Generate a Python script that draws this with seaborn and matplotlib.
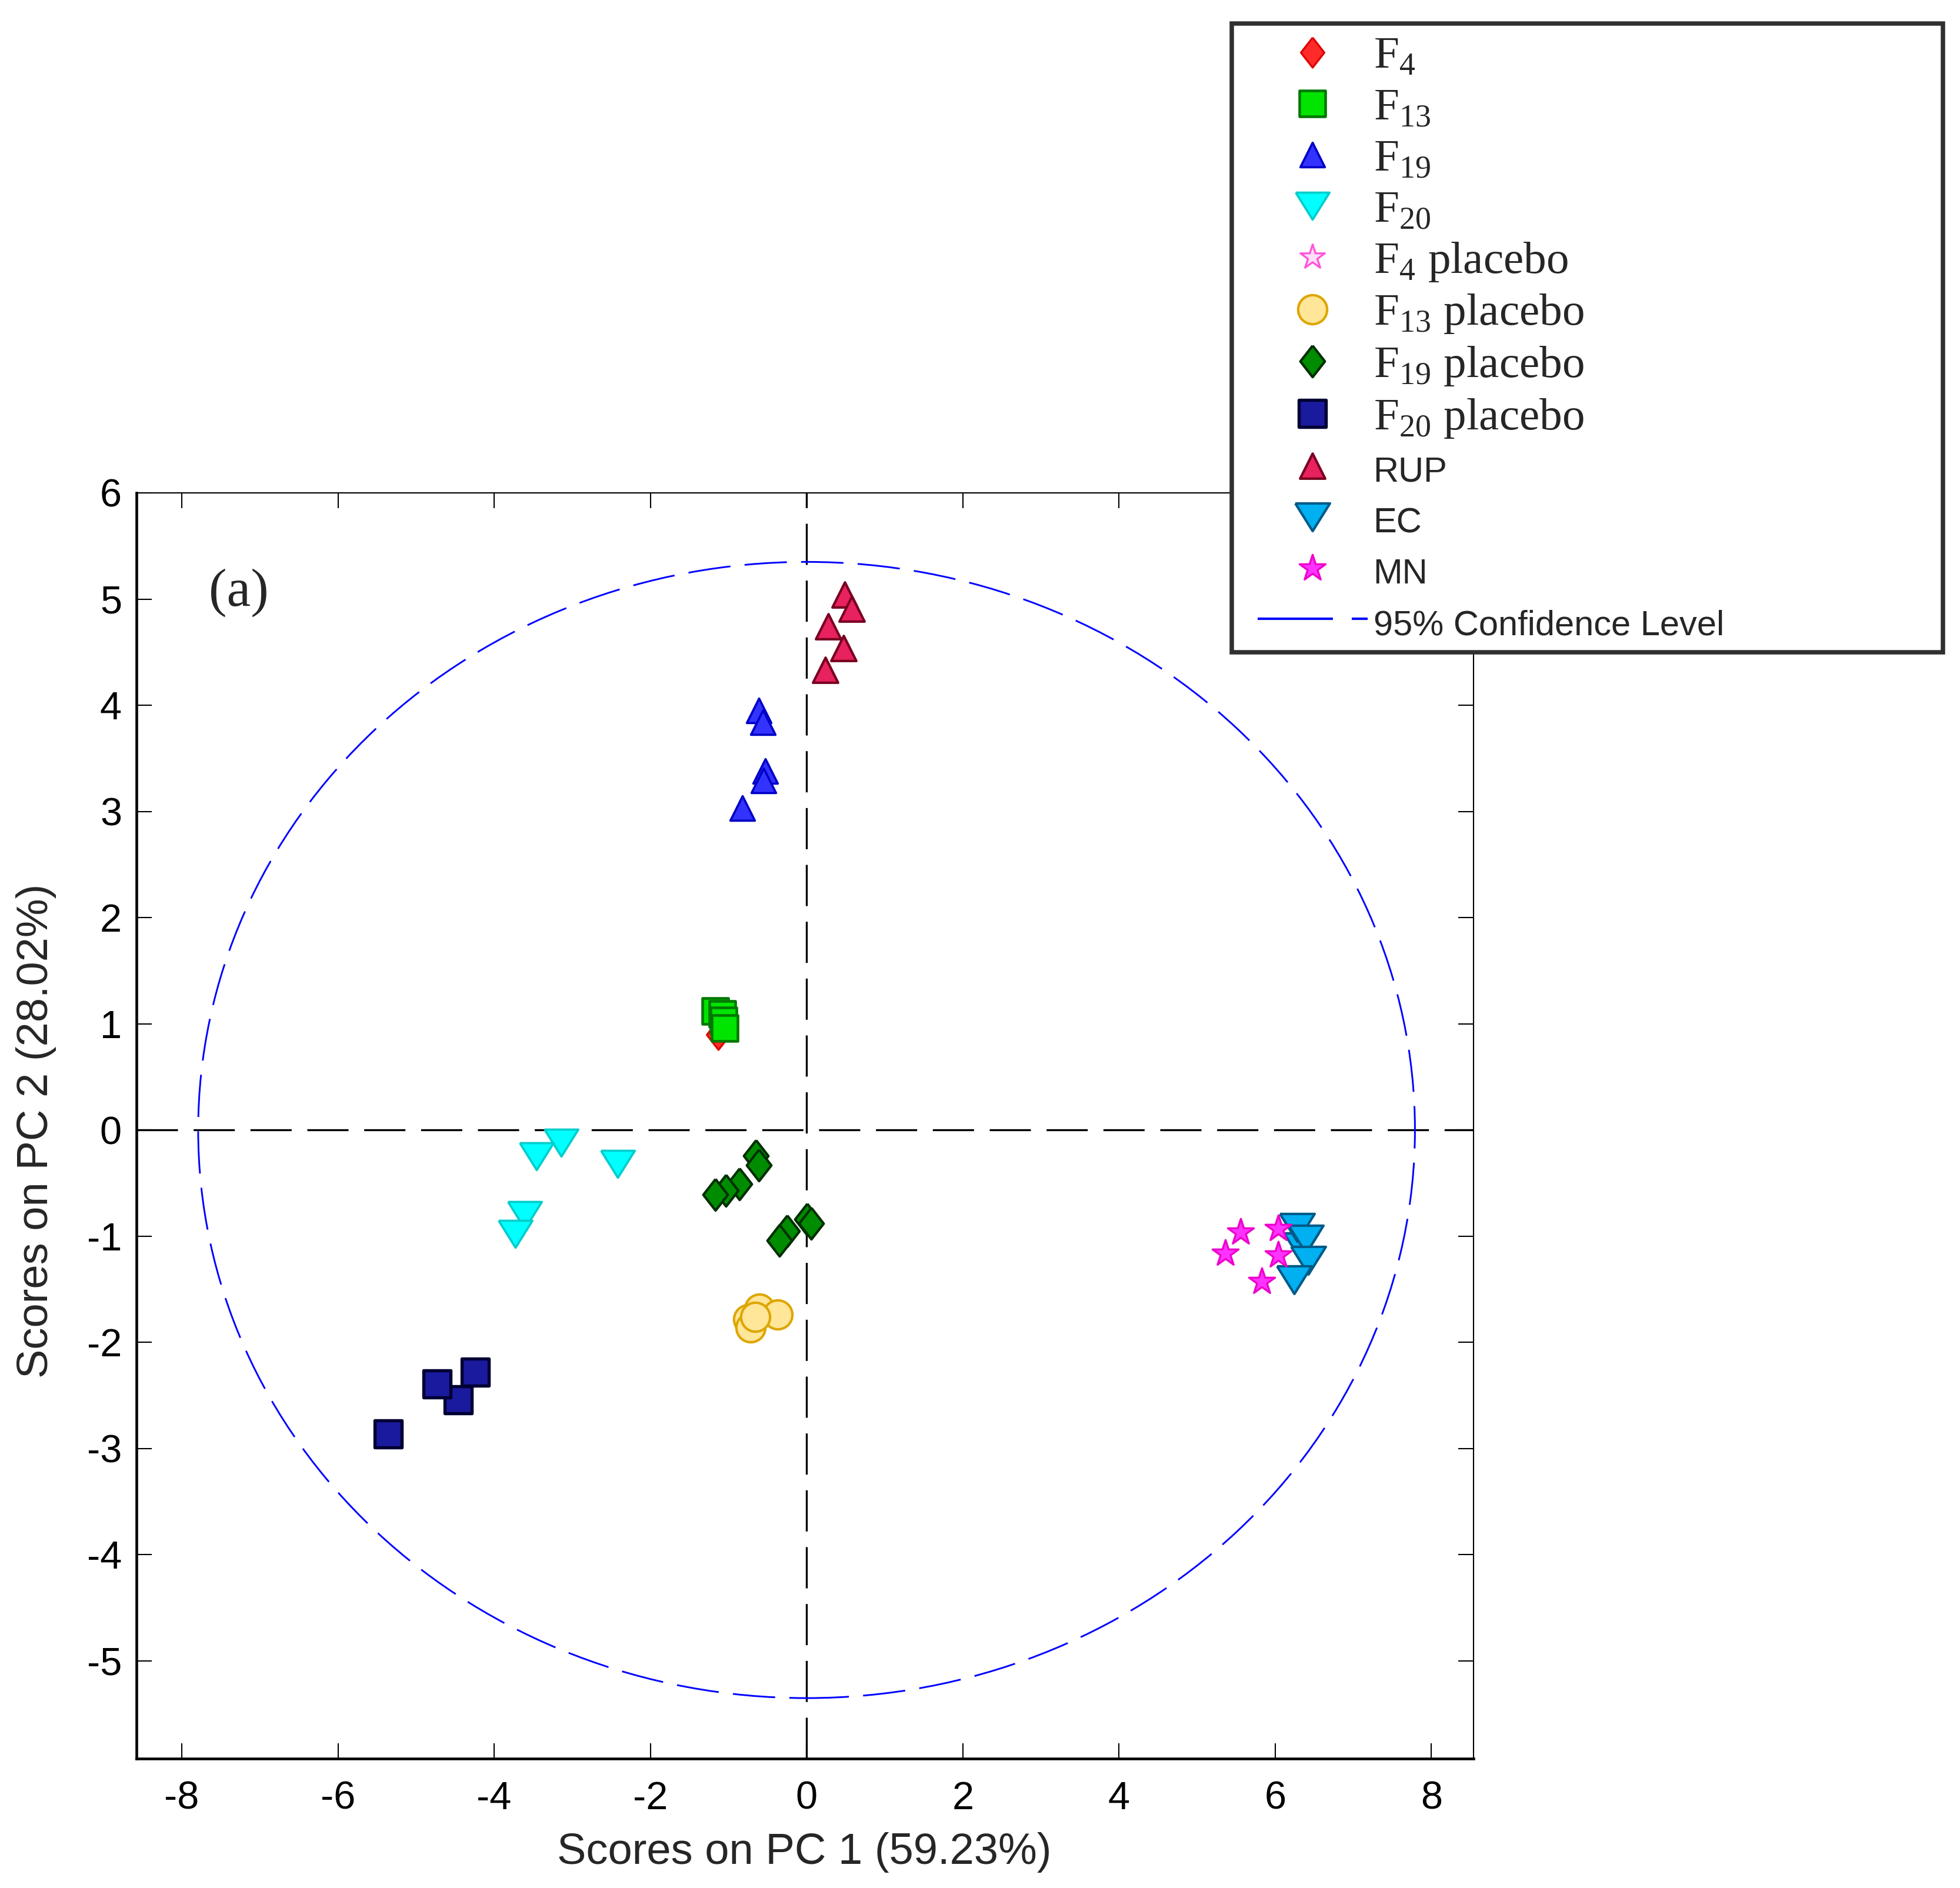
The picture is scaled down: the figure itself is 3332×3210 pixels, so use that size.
import numpy as np
import matplotlib
matplotlib.use("Agg")
import matplotlib.pyplot as plt
from matplotlib.lines import Line2D
from matplotlib.patches import Ellipse, Rectangle
from matplotlib.markers import MarkerStyle
import seaborn as sns

# ---------------- data (PCA scores) ----------------
F4_x = [-1.13, -1.10, -1.08]
F4_y = [0.90, 1.02, 1.08]
F13_x = [-1.17, -1.08, -1.06, -1.05]
F13_y = [1.12, 1.09, 1.03, 0.96]
F19_x = [-0.61, -0.56, -0.53, -0.55, -0.82]
F19_y = [3.95, 3.84, 3.38, 3.29, 3.03]
F20_x = [-3.14, -3.46, -2.42, -3.61, -3.73]
F20_y = [-0.12, -0.25, -0.32, -0.80, -0.98]
F4p_x = [-0.55, -0.45, -0.65]
F4p_y = [-1.75, -1.76, -1.80]
F13p_x = [-0.60, -0.37, -0.75, -0.72, -0.66]
F13p_y = [-1.68, -1.74, -1.78, -1.86, -1.76]
F19p_x = [-0.65, -0.61, -0.86, -1.03, -1.17, 0.01, 0.06, -0.25, -0.35]
F19p_y = [-0.24, -0.33, -0.51, -0.57, -0.61, -0.84, -0.88, -0.95, -1.04]
F20p_x = [-4.46, -4.73, -4.24, -5.36]
F20p_y = [-2.54, -2.39, -2.28, -2.86]
RUP_x = [0.49, 0.58, 0.28, 0.47, 0.24]
RUP_y = [5.04, 4.91, 4.74, 4.54, 4.33]
EC_x = [6.33, 6.28, 6.39, 6.42, 6.24]
EC_y = [-1.10, -0.92, -1.03, -1.23, -1.41]
MN_x = [5.56, 5.36, 6.04, 6.04, 5.83]
MN_y = [-0.96, -1.16, -0.93, -1.18, -1.43]

labels = [r"F$_\mathregular{4}$", r"F$_\mathregular{13}$", r"F$_\mathregular{19}$",
          r"F$_\mathregular{20}$", r"F$_\mathregular{4}$ placebo",
          r"F$_\mathregular{13}$ placebo", r"F$_\mathregular{19}$ placebo",
          r"F$_\mathregular{20}$ placebo", "RUP", "EC", "MN"]
conf_label = "95% Confidence Level"
conf_a, conf_b = 7.79, 5.35          # semi-axes of the 95% confidence ellipse
x_label = "Scores on PC 1 (59.23%)"
y_label = "Scores on PC 2 (28.02%)"
x_ticks = [-8, -6, -4, -2, 0, 2, 4, 6, 8]
y_ticks = [-5, -4, -3, -2, -1, 0, 1, 2, 3, 4, 5, 6]

# ---------------- style ----------------
sns.set_style("ticks")
plt.rcParams['font.family'] = ['Liberation Sans', 'DejaVu Sans']
plt.rcParams['axes.unicode_minus'] = False
plt.rcParams['mathtext.fontset'] = 'custom'
plt.rcParams['mathtext.rm'] = 'Liberation Serif'

diamond = MarkerStyle(np.array([[0, 1], [0.78, 0], [0, -1], [-0.78, 0], [0, 1]]))
down_tri = MarkerStyle(np.array([[-1, 0.8], [1, 0.8], [0, -0.8], [-1, 0.8]]))

groups = [
    (F4_x, F4_y, diamond, 150, "#FF2A2A", "#E00000", 0.8),
    (F13_x, F13_y, "s", 112, "#00E400", "#007800", 1.1),
    (F19_x, F19_y, "^", 100, "#3333FF", "#0000C8", 0.9),
    (F20_x, F20_y, down_tri, 190, "#00FFFF", "#00CDCD", 0.9),
    (F4p_x, F4p_y, "*", 110, "#FFE0F6", "#FF55DD", 0.8),
    (F13p_x, F13p_y, "o", 140, "#FFE699", "#DDA600", 1.0),
    (F19p_x, F19p_y, diamond, 165, "#008C00", "#002E00", 1.0),
    (F20p_x, F20p_y, "s", 118, "#1A1A9E", "#000033", 1.3),
    (RUP_x, RUP_y, "^", 105, "#E8215F", "#780020", 1.0),
    (EC_x, EC_y, down_tri, 200, "#00B0F0", "#005A88", 1.0),
    (MN_x, MN_y, "*", 125, "#FF33FF", "#EE00CC", 0.8),
]

W, H = 3332, 3210
fig = plt.figure(figsize=(W / 300, H / 300), dpi=300)
ax = fig.add_axes([232 / W, 1 - 2990 / H, (2505 - 232) / W, (2990 - 838) / H])

# reference lines and confidence ellipse
ax.axhline(0, color="black", lw=0.8, linestyle=(0, (21, 8)), zorder=1)
ax.axvline(0, color="black", lw=0.8, linestyle=(0, (21, 8)), zorder=1)
ax.add_patch(Ellipse((0, 0), 2 * conf_a, 2 * conf_b, fill=False, edgecolor="#0000FF",
                     lw=0.7, linestyle=(0, (24.7, 8.3)), zorder=2))

for (xs, ys, mk, s, fc, ec, lw), lab in zip(groups, labels):
    sns.scatterplot(x=xs, y=ys, marker=mk, s=s, color=fc, edgecolor=ec,
                    linewidth=lw, label=lab, ax=ax, zorder=3, legend=False)

ax.set_xlim(-8.58, 8.54)
ax.set_ylim(-5.92, 6.0)
ax.set_xticks(x_ticks)
ax.set_yticks(y_ticks)
ax.tick_params(direction="in", length=6.2, width=0.5, top=True, right=True,
               labelsize=16, colors="black")
ax.tick_params(axis="x", pad=9)
ax.tick_params(axis="y", pad=6)
for side in ["left", "bottom"]:
    ax.spines[side].set_linewidth(1.1)
for side in ["top", "right"]:
    ax.spines[side].set_linewidth(0.5)
for sp in ax.spines.values():
    sp.set_color("black")

ax.set_xlabel(x_label, fontsize=17.8)
ax.set_ylabel(y_label, fontsize=17.8)
ax.xaxis.set_label_coords(0.4993, -0.058)
ax.yaxis.set_label_coords(-0.0600, 0.496)

ax.text(-7.27, 5.06, "(a)", ha="center", va="center", fontsize=22,
        family=["Liberation Serif", "DejaVu Serif"])

# legend (figure level, over the axes)
handles, labs = ax.get_legend_handles_labels()
if ax.get_legend() is not None:
    ax.get_legend().remove()
handles.append(Line2D([], [], color="#0000FF", lw=1.0, linestyle=(0, (30.7, 7.7))))
labs.append(conf_label)

fig.patches.append(Rectangle((2094 / W, 1 - 1109 / H), 1209 / W, 1069 / H,
                             transform=fig.transFigure, facecolor="white",
                             edgecolor="#303030", lw=1.8, zorder=1))
leg = fig.legend(handles, labs, loc="upper left",
                 bbox_to_anchor=(2138 / W, 1 - 61 / H),
                 frameon=False, fontsize=14, borderpad=0, borderaxespad=0,
                 handlelength=3.2, handleheight=1.5, handletextpad=0.17,
                 labelspacing=0.27, scatterpoints=1)
leg.set_zorder(5)
for t in leg.get_texts():
    if t.get_text().startswith("F$"):
        t.set_family(["Liberation Serif", "DejaVu Serif"])
        t.set_fontsize(18.5)
    else:
        t.set_family(["Liberation Sans", "DejaVu Sans"])
        t.set_fontsize(14.3)

fig.savefig("out.png", dpi=300)
